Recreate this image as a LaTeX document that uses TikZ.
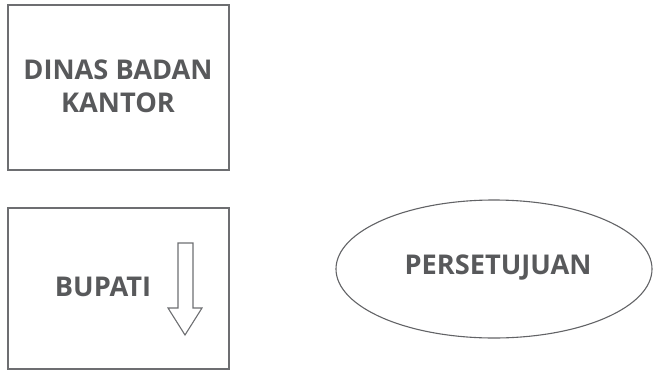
\documentclass[tikz,border=0pt]{standalone}
\usepackage{fontspec}
\setmainfont{Open Sans}
\usetikzlibrary{shapes.geometric}
\definecolor{txtgray}{HTML}{58595B}
\definecolor{linegray}{HTML}{6D6E71}
\begin{document}
\begin{tikzpicture}[x=1pt,y=-1pt,
  boxstyle/.style={draw=linegray,line width=1.8pt,rectangle,inner sep=0pt},
  lbl/.style={text=txtgray,font=\fontsize{27.2}{33}\selectfont\bfseries,align=center,inner sep=0pt},
  ovalstyle/.style={draw=linegray!90!black,line width=1.1pt,ellipse,inner sep=0pt}]
\useasboundingbox (0,0) rectangle (655,372);
\node[boxstyle,minimum width=221pt,minimum height=165pt] (dinas) at (118.5,87.5) {};
\node[lbl] (dinaslbl) at (118,86) {DINAS BADAN\\KANTOR};
\node[boxstyle,minimum width=221pt,minimum height=161pt] (bupati) at (118.5,288.5) {};
\node[lbl] (bupatilbl) at (103,287) {BUPATI};
\node[ovalstyle,minimum width=316pt,minimum height=138pt] (setuju) at (494,269) {};
\node[lbl] (setujulbl) at (498,268) {PERSETUJUAN};
\draw[draw=linegray,line width=1.1pt,line join=miter]
  (178,243) -- (193,243) -- (193,308) -- (202,308) -- (185,335) -- (168,308) -- (178,308) -- cycle;
\end{tikzpicture}
\end{document}
